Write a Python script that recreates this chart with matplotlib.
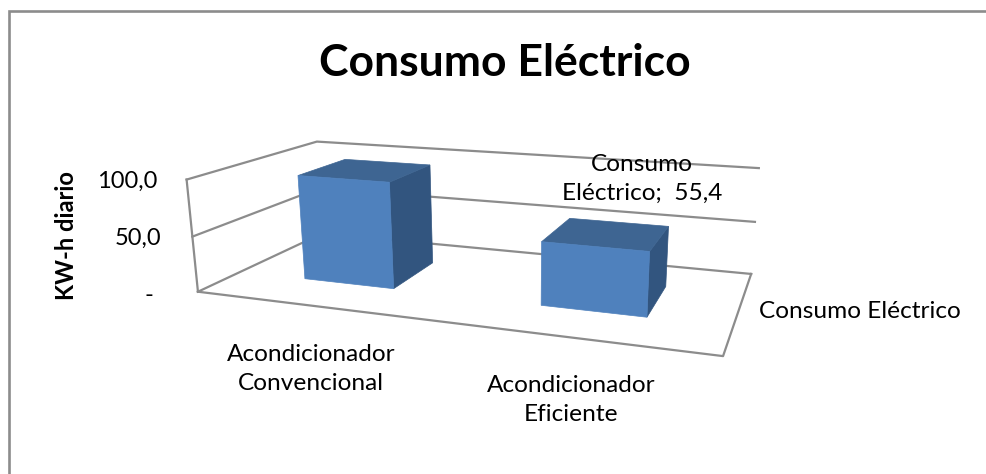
import numpy as np
import matplotlib
matplotlib.use("Agg")
import matplotlib.pyplot as plt
from matplotlib.patches import Polygon

# --- data ---
categories = ["Acondicionador\nConvencional", "Acondicionador\nEficiente"]
series_name = "Consumo Eléctrico"
values = [96.0, 55.4]
value_ticks = [0, 50, 100]
value_tick_labels = ["-", "50,0", "100,0"]
title = "Consumo Eléctrico"
y_title = "KW-h diario"

plt.rcParams['font.family'] = ['Lato', 'DejaVu Sans']
W, H = 987, 474
fig = plt.figure(figsize=(W / 100, H / 100), dpi=100)
ax = fig.add_axes([0, 0, 1, 1])
ax.set_xlim(0, W)
ax.set_ylim(H, 0)
ax.axis("off")

# --- projection of the 3-D chart box: (category axis 0-1, depth 0-1, value 0-100) -> pixels
calib = [((0, 0, 0), (197, 292)), ((1, 0, 0), (723, 356)),
         ((0, 1, 0), (323, 233)), ((1, 1, 0), (751, 274)),
         ((0, 0, 100), (187, 179)), ((0, 1, 100), (316, 142)),
         ((1, 1, 100), (759, 168)), ((0, 0, 50), (193, 237)),
         ((1, 1, 50), (755, 222)), ((0, 1, 50), (320, 188))]
A = []
b = []
for (x, y, z), (u, v) in calib:
    A.append([x, y, z / 100, 1, 0, 0, 0, 0, -u * x, -u * y, -u * z / 100]); b.append(u)
    A.append([0, 0, 0, 0, x, y, z / 100, 1, -v * x, -v * y, -v * z / 100]); b.append(v)
m = np.linalg.lstsq(np.array(A, float), np.array(b, float), rcond=None)[0]
M = np.array([m[:4], m[4:8], [m[8], m[9], m[10], 1.0]])


def proj(x, y, z):
    p = M @ np.array([x, y, z / 100, 1.0])
    return (p[0] / p[2], p[1] / p[2])


grid_c = "#8c8c8c"
# outer chart frame (only top and left are inside the crop)
ax.plot([8.5, 8.5, W], [H, 10.5, 10.5], color="#8c8c8c", lw=1.9, solid_joinstyle="miter")

# walls, gridlines and floor
for t in value_ticks:
    pts = [proj(0, 0, t), proj(0, 1, t), proj(1, 1, t)]
    ax.plot(*zip(*pts), color=grid_c, lw=1.6, zorder=1)
ax.plot(*zip(proj(0, 0, 0), proj(0, 0, 100)), color=grid_c, lw=1.6, zorder=1)
ax.plot(*zip(proj(0, 0, 0), proj(1, 0, 0), proj(1, 1, 0)), color=grid_c, lw=1.6, zorder=1)

# bars
n = len(values)
bar_w = 0.198
depth0, depth1 = 0.30, 0.70
for i, val in enumerate(values):
    c = (i + 0.5) / n
    x0, x1 = c - bar_w / 2, c + bar_w / 2
    top = [proj(x0, depth0, val), proj(x1, depth0, val), proj(x1, depth1, val), proj(x0, depth1, val)]
    front = [proj(x0, depth0, 0), proj(x1, depth0, 0), proj(x1, depth0, val), proj(x0, depth0, val)]
    side = [proj(x1, depth0, 0), proj(x1, depth1, 0), proj(x1, depth1, val), proj(x1, depth0, val)]
    ax.add_patch(Polygon(side, closed=True, fc="#32557f", ec="#32557f", lw=0.5, zorder=3))
    ax.add_patch(Polygon(top, closed=True, fc="#3e6592", ec="#3e6592", lw=0.5, zorder=3))
    ax.add_patch(Polygon(front, closed=True, fc="#4f81bd", ec="#4f81bd", lw=0.5, zorder=4))

# texts
fs = 17.6
ax.text(505, 63, title, fontsize=32, fontweight="bold", ha="center", va="center", color="black", zorder=6)
ax.text(66, 236, y_title, fontsize=17, fontweight="bold", rotation=90, ha="center", va="center", zorder=6)
for t, lab, (xr, yr) in zip(value_ticks, value_tick_labels, [(153, 295), (161, 238), (157, 181)]):
    ax.text(xr, yr, lab, fontsize=17, ha="right", va="center", zorder=6)
ax.text(311, 369, categories[0], fontsize=fs, ha="center", va="center", linespacing=1.5, zorder=6)
ax.text(571, 400, categories[1], fontsize=fs, ha="center", va="center", linespacing=1.5, zorder=6)
ax.text(642, 179, f"Consumo\n{series_name.split()[1]};  {str(values[1]).replace('.', ',')}", fontsize=fs,
        ha="center", va="center", linespacing=1.5, zorder=6)
ax.text(860, 311, series_name, fontsize=fs, ha="center", va="center", zorder=6)

fig.savefig("out.png", dpi=100)
